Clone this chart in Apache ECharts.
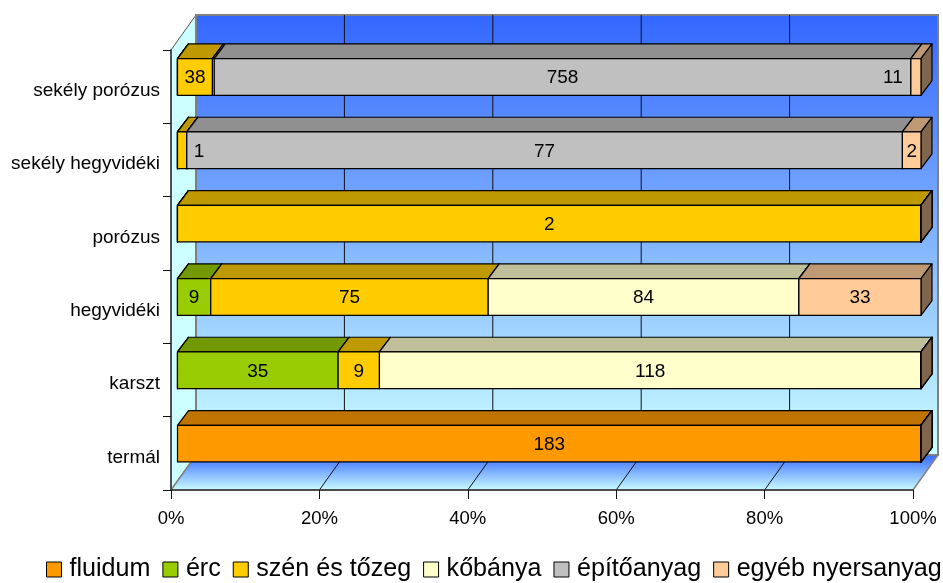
<!DOCTYPE html>
<html><head><meta charset="utf-8">
<style>html,body{margin:0;padding:0;background:#fff}#c{width:943px;height:583px}</style>
<script src="https://cdn.jsdelivr.net/npm/echarts@6/dist/echarts.min.js"></script>
</head><body><div id="c"></div>
<script>
const categories = ['sekély porózus','sekély hegyvidéki','porózus','hegyvidéki','karszt','termál'];
const fluidum    = [0,0,0,0,0,183];
const erc        = [0,0,0,9,35,0];
const szen       = [38,1,2,75,9,0];
const kobanya    = [2,0,0,84,118,0];
const epito      = [758,77,0,0,0,0];
const egyeb      = [11,2,0,33,0,0];
const seriesNames = ['fluidum','érc','szén és tőzeg','kőbánya','építőanyag','egyéb nyersanyag'];
const seriesValues = [fluidum,erc,szen,kobanya,epito,egyeb];
const colors = ['#FF9900','#99CC00','#FFCC00','#FFFFCC','#C0C0C0','#FFCC99'];
const topColors = ['#BF7300','#739900','#BF9900','#BFBF99','#909090','#BF9973'];
const sideColors = ['#804D00','#4D6600','#806600','#808066','#606060','#80664D'];
const xTicks = [0,20,40,60,80,100];

const WALL = {dx:25, dy:-35};
const BAR_OFF = {dx:6.5, dy:-9.7};
const BAR_DEPTH = {dx:11, dy:-14.7};
const BAR_STRETCH = 1.002;
const FONT = '"Liberation Sans", Arial, sans-serif';
const hiddenLabel = (s,c)=> s===3 && c===0;
const labelShift = (s,c)=> (s===2 && c===1) ? 17 : (s===5 && c===0) ? -23 : 0;

const totals = categories.map((_,c)=>seriesValues.reduce((a,v)=>a+v[c],0));

function wallItem(params, api){
  const p0 = api.coord([0,0]);
  const x0 = p0[0];
  const band = api.size([0,1])[1];
  const yTop = p0[1]-band/2;
  const yBot = yTop+band*6;
  const x1 = api.coord([100,0])[0];
  const dx=WALL.dx, dy=WALL.dy;
  const ch=[];
  ch.push({type:'polygon',shape:{points:[[x0,yTop],[x0+dx,yTop+dy],[x0+dx,yBot+dy],[x0,yBot]]},
    style:{fill:'#CCFFFF',stroke:'#555',lineWidth:1}});
  ch.push({type:'rect',shape:{x:x0+dx,y:yTop+dy,width:x1-x0,height:yBot-yTop},
    style:{fill:new echarts.graphic.LinearGradient(0,0,0,1,[{offset:0,color:'#3366FF'},{offset:1,color:'#CCFFFF'}]),stroke:'#808080',lineWidth:2}});
  ch.push({type:'polygon',shape:{points:[[x0,yBot],[x0+dx,yBot+dy],[x1+dx,yBot+dy],[x1,yBot]]},
    style:{fill:new echarts.graphic.LinearGradient(0,0,0,1,[{offset:0,color:'#3366FF'},{offset:1,color:'#CCFFFF'}]),stroke:'#808080',lineWidth:1.5}});
  xTicks.forEach(t=>{
    const x=api.coord([t,0])[0];
    if(t>0&&t<100){
      ch.push({type:'line',shape:{x1:x+dx,y1:yTop+dy,x2:x+dx,y2:yBot+dy},style:{stroke:'#111',lineWidth:1}});
      ch.push({type:'line',shape:{x1:x,y1:yBot,x2:x+dx,y2:yBot+dy},style:{stroke:'#111',lineWidth:1}});
    }
  });
  return {type:'group',children:ch};
}

function barItem(s){
  return function(params, api){
    const c = api.value(0), a = api.value(1), b = api.value(2), raw = api.value(3);
    const pa = api.coord([a,c]), pb = api.coord([b,c]);
    const x0 = api.coord([0,c])[0];
    const h = api.size([0,1])[1]*0.5;
    const xa = x0+(pa[0]-x0)*BAR_STRETCH+BAR_OFF.dx, xb = x0+(pb[0]-x0)*BAR_STRETCH+BAR_OFF.dx;
    const y1 = pa[1]+BAR_OFF.dy-h/2, y2 = y1+h;
    const d = BAR_DEPTH;
    const ln = {stroke:'#000',lineWidth:1.2,lineJoin:'round'};
    const ch=[
      {type:'polygon',shape:{points:[[xa,y1],[xa+d.dx,y1+d.dy],[xb+d.dx,y1+d.dy],[xb,y1]]},style:{fill:topColors[s],...ln}},
      {type:'polygon',shape:{points:[[xb,y1],[xb+d.dx,y1+d.dy],[xb+d.dx,y2+d.dy],[xb,y2]]},style:{fill:sideColors[s],...ln}},
      {type:'rect',shape:{x:xa,y:y1,width:xb-xa,height:h},style:{fill:colors[s],...ln}}
    ];
    if(raw>0 && !hiddenLabel(s,c)){
      ch.push({type:'text',z2:10,style:{text:String(raw),x:(xa+xb)/2+labelShift(s,c),y:(y1+y2)/2+1,align:'center',verticalAlign:'middle',
        fill:'#000',font:'19px '+FONT}});
    }
    return {type:'group',children:ch};
  };
}

const cum = categories.map(()=>0);
const barSeries = seriesNames.map((name,s)=>{
  const data = categories.map((_,c)=>{
    const a=cum[c]; const v=seriesValues[s][c]; cum[c]=a+v;
    return [c, a/totals[c]*100, (a+v)/totals[c]*100, v];
  });
  return {name,type:'custom',coordinateSystem:'cartesian2d',clip:false,z:3,silent:true,
    itemStyle:{color:colors[s]},encode:{x:[1,2],y:0},renderItem:barItem(s),data};
});

const chart = echarts.init(document.getElementById('c'),null,{renderer:'canvas'});
chart.setOption({
  animation:false,
  backgroundColor:'#fff',
  grid:{left:171,top:50,right:30,bottom:93,containLabel:false},
  xAxis:{type:'value',min:0,max:100,interval:20,z:2,
    axisLine:{show:true,lineStyle:{color:'#333',width:1.5}},
    axisTick:{show:true,length:9,lineStyle:{color:'#111'}},
    splitLine:{show:false},
    axisLabel:{formatter:'{value}%',color:'#000',fontFamily:'Liberation Sans',fontSize:18.5,margin:19}},
  yAxis:{type:'category',data:categories,inverse:true,z:2,
    axisLine:{show:true,lineStyle:{color:'#333',width:1.5}},
    axisTick:{show:true,length:8,lineStyle:{color:'#111'}},
    splitLine:{show:false},
    axisLabel:{color:'#000',fontFamily:'Liberation Sans',fontSize:19,margin:11,verticalAlign:'top',lineHeight:8}},
  legend:{left:46,top:557,padding:0,itemWidth:15,itemHeight:15,itemGap:12,icon:'rect',
    data:seriesNames,selectedMode:false,
    itemStyle:{borderColor:'#000',borderWidth:1},
    textStyle:{color:'#000',fontFamily:'Liberation Sans',fontSize:25.1,padding:[0,0,0,3]}},
  series:[{type:'custom',name:'walls',coordinateSystem:'cartesian2d',clip:false,z:1,silent:true,
    renderItem:wallItem,encode:{x:0,y:1},data:[[0,0]]}].concat(barSeries)
});
</script></body></html>
